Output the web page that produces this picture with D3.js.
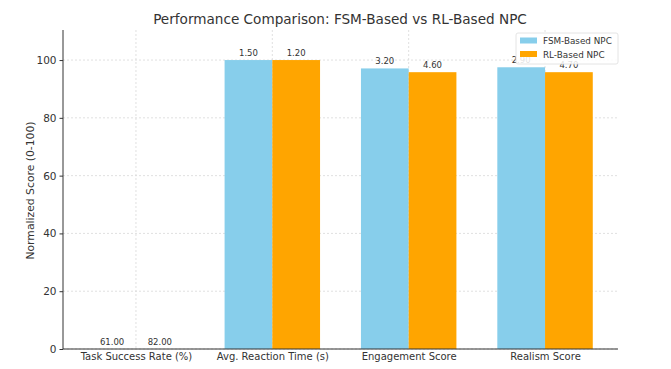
<!DOCTYPE html>
<html><head><meta charset="utf-8">
<script src="https://cdn.jsdelivr.net/npm/d3@7"></script>
<style>body{margin:0;background:#fff}svg{font-family:"DejaVu Sans",sans-serif}</style>
</head><body><svg id="c" width="671" height="369"></svg>
<script>
const categories = ["Task Success Rate (%)", "Avg. Reaction Time (s)", "Engagement Score", "Realism Score"];
const seriesNames = ["FSM-Based NPC", "RL-Based NPC"];
const fsmNormalized = [0, 100, 97.1, 97.5];
const rlNormalized = [0, 100, 95.8, 95.8];
const fsmRaw = ["61.00", "1.50", "3.20", "2.90"];
const rlRaw = ["82.00", "1.20", "4.60", "4.70"];
const yTicks = [0, 20, 40, 60, 80, 100];
const colors = ["#87ceeb", "#ffa500"];

const svg = d3.select("#c");
const L = 63, R = 618, T = 30, B = 349;
const bw = 0.35;
const x = d3.scaleLinear().domain([-0.535, 3.535]).range([L, R]);
const y = d3.scaleLinear().domain([0, 110.4]).range([B, T]);

// grid
const g = svg.append("g");
g.selectAll(".hg").data(yTicks).join("line")
  .attr("x1", L).attr("x2", R).attr("y1", d => y(d)).attr("y2", d => y(d))
  .attr("stroke", "#d8d8d8").attr("stroke-width", 0.8).attr("stroke-dasharray", "2,2");
g.selectAll(".vg").data(categories).join("line")
  .attr("x1", (d, i) => x(i)).attr("x2", (d, i) => x(i)).attr("y1", T).attr("y2", B)
  .attr("stroke", "#d8d8d8").attr("stroke-width", 0.8).attr("stroke-dasharray", "2,2");

const series = [fsmNormalized, rlNormalized];
const raws = [fsmRaw, rlRaw];
series.forEach((vals, s) => {
  const off = s === 0 ? -bw : 0;
  svg.append("g").selectAll("rect").data(vals).join("rect")
    .attr("x", (d, i) => x(i + off)).attr("width", x(bw) - x(0))
    .attr("y", d => y(d)).attr("height", d => B - y(d))
    .attr("fill", colors[s]);
  svg.append("g").selectAll("text").data(vals).join("text")
    .attr("x", (d, i) => x(i + off + bw / 2)).attr("y", d => y(d) - 4)
    .attr("text-anchor", "middle").attr("font-size", 8.5).attr("fill", "#333")
    .text((d, i) => raws[s][i]);
});

// axes
const ya = d3.axisLeft(y).tickValues(yTicks).tickSize(3.5).tickPadding(3);
const yg = svg.append("g").attr("transform", `translate(${L},0)`).call(ya);
yg.select(".domain").attr("d", `M0,${T}V${B}`).attr("stroke", "#333").attr("stroke-width", 1);
yg.selectAll(".tick line").attr("stroke", "#333");
yg.selectAll(".tick text").attr("font-size", 10.5).attr("fill", "#333").attr("font-family", "DejaVu Sans");

const xa = d3.axisBottom(x).tickValues(d3.range(categories.length)).tickFormat(i => categories[i]).tickSize(0).tickPadding(4);
const xg = svg.append("g").attr("transform", `translate(0,${B})`).call(xa);
xg.select(".domain").attr("d", `M${L},0H${R}`).attr("stroke", "#333").attr("stroke-width", 1);
xg.selectAll(".tick text").attr("font-size", 10).attr("fill", "#333").attr("font-family", "DejaVu Sans");

svg.append("text").attr("x", (L + R) / 2 - 0.5).attr("y", 24).attr("text-anchor", "middle")
  .attr("font-size", 13.6).attr("fill", "#333").text("Performance Comparison: FSM-Based vs RL-Based NPC");
svg.append("text").attr("transform", `translate(34,${(T + B) / 2 + 1}) rotate(-90)`)
  .attr("text-anchor", "middle").attr("font-size", 10.8).attr("fill", "#333").text("Normalized Score (0-100)");

// legend
const lg = svg.append("g").attr("transform", "translate(516,33)");
lg.append("rect").attr("width", 102).attr("height", 31).attr("rx", 2)
  .attr("fill", "rgba(255,255,255,0.85)").attr("stroke", "#ddd").attr("stroke-width", 0.8);
seriesNames.forEach((n, i) => {
  lg.append("rect").attr("x", 4).attr("y", 4.5 + i * 13.5).attr("width", 17).attr("height", 6).attr("fill", colors[i]);
  lg.append("text").attr("x", 27).attr("y", 11 + i * 13.5).attr("font-size", 8.8).attr("fill", "#333").text(n);
});
</script></body></html>
